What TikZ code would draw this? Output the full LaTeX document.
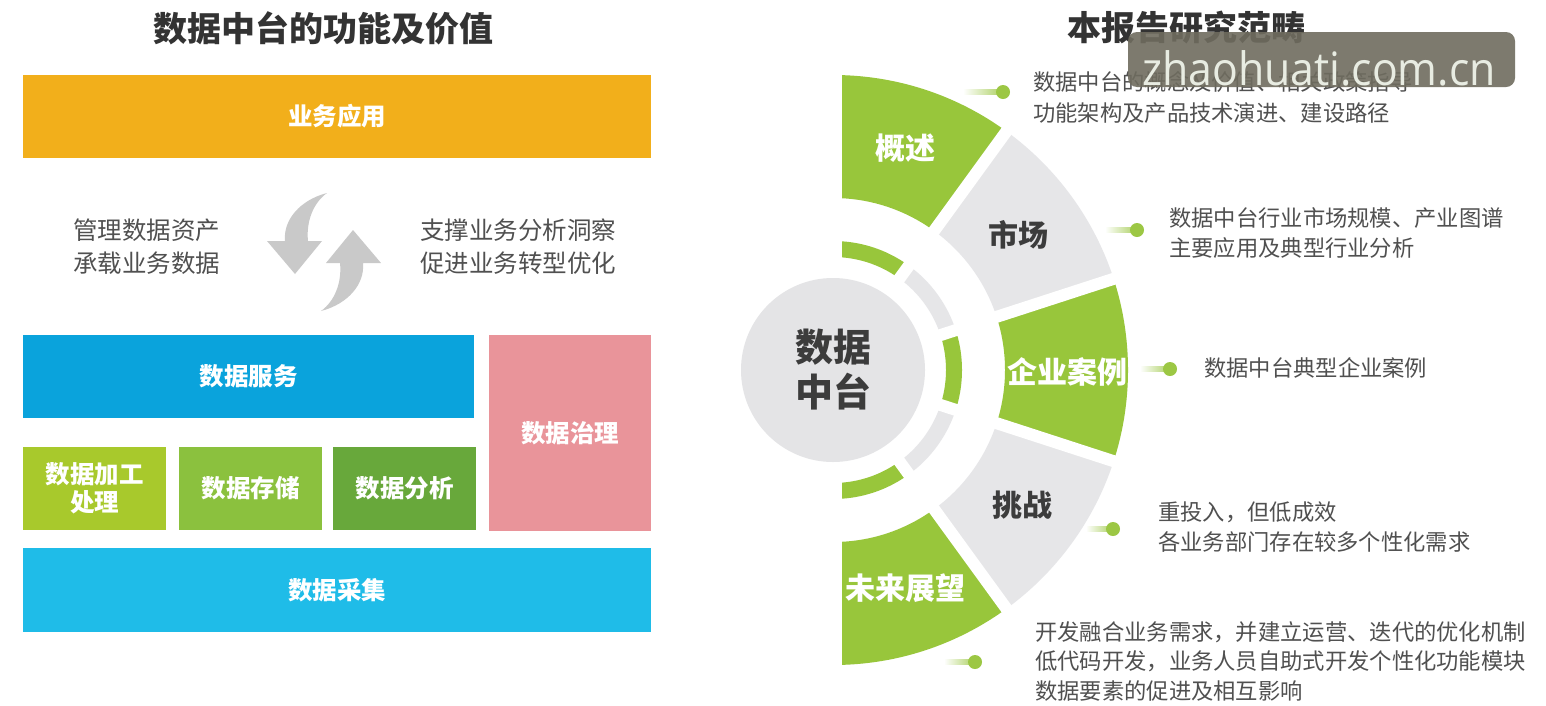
\documentclass[tikz,border=0pt]{standalone}
\usepackage{fontspec}
\newfontfamily\cjk{Noto Sans CJK SC}
\newfontfamily\wmfont{Open Sans}
\usetikzlibrary{calc}
\definecolor{titlegray}{HTML}{333333}
\definecolor{txtgray}{HTML}{505050}
\definecolor{labgray}{HTML}{3C3C3C}
\definecolor{orangeA}{HTML}{F2AF1B}
\definecolor{blueS}{HTML}{0AA3DC}
\definecolor{pinkG}{HTML}{E9949A}
\definecolor{greenP}{HTML}{A8C92C}
\definecolor{greenS}{HTML}{8BC13E}
\definecolor{greenA}{HTML}{68A83B}
\definecolor{blueC}{HTML}{1FBCE8}
\definecolor{secgreen}{HTML}{98C63B}
\definecolor{secgray}{HTML}{E6E6E8}
\definecolor{circgray}{HTML}{E4E4E6}
\definecolor{arrowgray}{HTML}{C9C9C9}
\definecolor{dotgreen}{HTML}{9CC744}
\definecolor{wmbox}{HTML}{6F6C5F}
\definecolor{wmtext}{HTML}{E8ECE2}
\tikzset{
  titletext/.style={text=titlegray, inner sep=0, font=\cjk\bfseries\fontsize{34}{40}\selectfont},
  boxnode/.style={inner sep=0, text=white, align=center, font=\cjk\bfseries\fontsize{24.5}{28}\selectfont},
  midtext/.style={inner sep=0, anchor=west, align=left, text=txtgray, font=\cjk\fontsize{24.5}{33}\selectfont},
  desctext/.style={inner sep=0, anchor=west, align=left, text=txtgray, font=\cjk\fontsize{22.3}{30}\selectfont},
  seclabel/.style={inner sep=0, font=\cjk\bfseries\fontsize{30}{36}\selectfont},
  dotnode/.style={circle, fill=dotgreen, minimum size=14pt, inner sep=0},
  arrowshape/.style={fill=arrowgray, draw=none}
}
\begin{document}
\begin{tikzpicture}[x=1pt, y=-1pt]
\useasboundingbox (0,0) rectangle (1546,705);
\fill[white] (0,0) rectangle (1546,705);

% ---------------- left part ----------------
\node[titletext] (ltitle) at (323,28) {数据中台的功能及价值};

\node[boxnode, fill=orangeA, minimum width=628pt, minimum height=83pt] (app) at (337,116.5) {业务应用};

\node[midtext] (mgmt) at (73,246.5) {管理数据资产\\承载业务数据};
\node[midtext] (supp) at (420,246.5) {支撑业务分析洞察\\促进业务转型优化};

% cycle arrows
\path[arrowshape] (327,193) .. controls (300,200) and (283,220) .. (285,241)
  -- (267,241) -- (295,274) -- (322,241) -- (308,241)
  .. controls (306,222) and (313,203) .. (327,193) -- cycle;
\begin{scope}[rotate around={180:(324,252)}]
\path[arrowshape] (327,193) .. controls (300,200) and (283,220) .. (285,241)
  -- (267,241) -- (295,274) -- (322,241) -- (308,241)
  .. controls (306,222) and (313,203) .. (327,193) -- cycle;
\end{scope}

\node[boxnode, fill=blueS, minimum width=451pt, minimum height=83pt] (svc) at (248.5,376.5) {数据服务};
\node[boxnode, fill=pinkG, minimum width=162pt, minimum height=196pt] (gov) at (570,433) {数据治理};
\node[boxnode, fill=greenP, minimum width=143pt, minimum height=83pt] (proc) at (94.5,488.5) {数据加工\\处理};
\node[boxnode, fill=greenS, minimum width=143pt, minimum height=83pt] (store) at (250.5,488.5) {数据存储};
\node[boxnode, fill=greenA, minimum width=143pt, minimum height=83pt] (anal) at (404.5,488.5) {数据分析};
\node[boxnode, fill=blueC, minimum width=628pt, minimum height=84pt] (coll) at (337,590) {数据采集};

% ---------------- right part ----------------
\node[titletext] (rtitle) at (1186,28) {本报告研究范畴};

\coordinate (C) at (833,370);
\begin{scope}
  \clip (842,0) rectangle (1546,705);
  \foreach \a/\b/\c in {-90/-54/secgreen, -54/-18/secgray, -18/18/secgreen, 18/54/secgray, 54/90/secgreen} {
    \begin{scope}
      \clip (C) -- ($(C)+(\a:600)$) -- ($(C)+({(\a+\b)/2}:600)$) -- ($(C)+(\b:600)$) -- cycle;
      \fill[\c, even odd rule] (C) circle[radius=295] (C) circle[radius=172]
                               (C) circle[radius=129] (C) circle[radius=113];
    \end{scope}
  }
\end{scope}
\foreach \t in {-54,-18,18,54} {
  \draw[white, line width=12pt] ($(C)+(\t:104)$) -- ($(C)+(\t:310)$);
}

\node[circle, fill=circgray, minimum size=184pt, inner sep=0, align=center, text=labgray,
      font=\cjk\bfseries\fontsize{38}{45}\selectfont] (core) at (C) {数据\\中台};

\node[seclabel, text=white] (l1) at (905,148) {概述};
\node[seclabel, text=labgray] (l2) at (1018,235) {市场};
\node[seclabel, text=white] (l3) at (1067,372) {企业案例};
\node[seclabel, text=labgray] (l4) at (1022,505) {挑战};
\node[seclabel, text=white] (l5) at (905,588) {未来展望};

% dots with fading tails
\foreach \n/\px/\py/\len in {1/1003/92/40, 2/1137/230/32, 3/1170/369/30, 4/1113/529/27, 5/975/662/31} {
  \coordinate (p\n) at (\px,\py);
  \shade[left color=white, right color=dotgreen!85] ($(p\n)+(-\len,-2.5)$) rectangle ($(p\n)+(0,2.5)$);
  \node[dotnode] (d\n) at (p\n) {};
}

\node[desctext, font=\cjk\fontsize{22.3}{31}\selectfont] (t1) at (1033,97.5) {数据中台的概念及价值、相关政策指导\\功能架构及产品技术演进、建设路径};
\node[desctext] (t2) at (1169,233) {数据中台行业市场规模、产业图谱\\主要应用及典型行业分析};
\node[desctext] (t3) at (1204,368) {数据中台典型企业案例};
\node[desctext] (t4) at (1158,527) {重投入，但低成效\\各业务部门存在较多个性化需求};
\node[desctext, font=\cjk\fontsize{22.3}{29.5}\selectfont] (t5) at (1035,661) {开发融合业务需求，并建立运营、迭代的优化机制\\低代码开发，业务人员自助式开发个性化功能模块\\数据要素的促进及相互影响};

% watermark
\node[fill=wmbox, fill opacity=0.9, rounded corners=9pt, minimum width=387pt, minimum height=55pt, inner sep=0] (wm) at (1321.5,59.5) {};
\node[anchor=base west, inner sep=0, text=wmtext, font=\wmfont\fontsize{46}{46}\selectfont] (wmt) at (1142,85) {\scalebox{0.93}[1]{zhaohuati.com.cn}};
\end{tikzpicture}
\end{document}
